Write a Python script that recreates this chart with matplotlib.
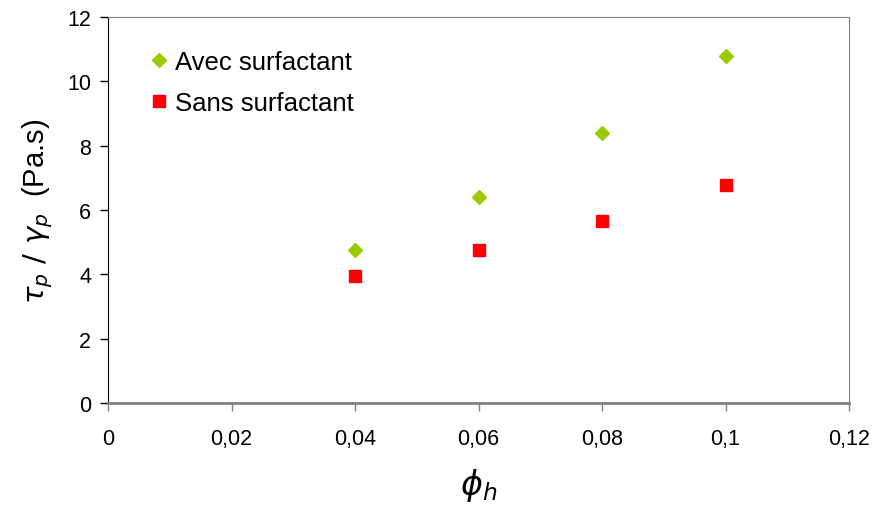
import matplotlib
matplotlib.use("Agg")
import matplotlib.pyplot as plt

plt.rcParams['font.family'] = ['Liberation Sans', 'DejaVu Sans']
plt.rcParams['mathtext.fontset'] = 'dejavusans'

# data
phi = [0.04, 0.06, 0.08, 0.1]
avec = [4.76, 6.40, 8.39, 10.79]
sans = [3.95, 4.76, 5.66, 6.78]
xticks = [0, 0.02, 0.04, 0.06, 0.08, 0.1, 0.12]
xlabels = ['0', '0,02', '0,04', '0,06', '0,08', '0,1', '0,12']
yticks = [0, 2, 4, 6, 8, 10, 12]

fig = plt.figure(figsize=(8.74, 5.06), dpi=100)
ax = fig.add_axes([0.1236, 0.2016, 0.8478, 0.7628])

ax.plot(phi, avec, linestyle='none', marker='D', markersize=7.5,
        color='#99cc00', label='Avec surfactant')
ax.plot(phi, sans, linestyle='none', marker='s', markersize=8.5,
        color='#ff0000', label='Sans surfactant')

ax.set_xlim(0, 0.12)
ax.set_ylim(0, 12)
ax.set_xticks(xticks)
ax.set_xticklabels(xlabels)
ax.set_yticks(yticks)
ax.tick_params(direction='out', length=6, width=1, labelsize=15.5, pad=6)
ax.tick_params(axis='x', pad=12, colors='black')

ax.spines['left'].set_color('black')
ax.spines['bottom'].set_color('#808080')
ax.spines['bottom'].set_linewidth(2)
ax.spines['top'].set_color('#808080')
ax.spines['right'].set_color('#808080')
ax.tick_params(axis='x', color='#808080')

ax.set_xlabel(r'$\phi_h$', fontsize=24, labelpad=12)
ax.set_ylabel(r'$\tau_p\ /\ \gamma_p$  (Pa.s)', fontsize=21, labelpad=9)

ax.legend(loc='upper left', bbox_to_anchor=(0.037, 0.942), frameon=False,
          fontsize=18.5, handletextpad=0.15, labelspacing=0.67,
          handlelength=1.0, borderaxespad=0)

fig.savefig('out.png', dpi=100)
